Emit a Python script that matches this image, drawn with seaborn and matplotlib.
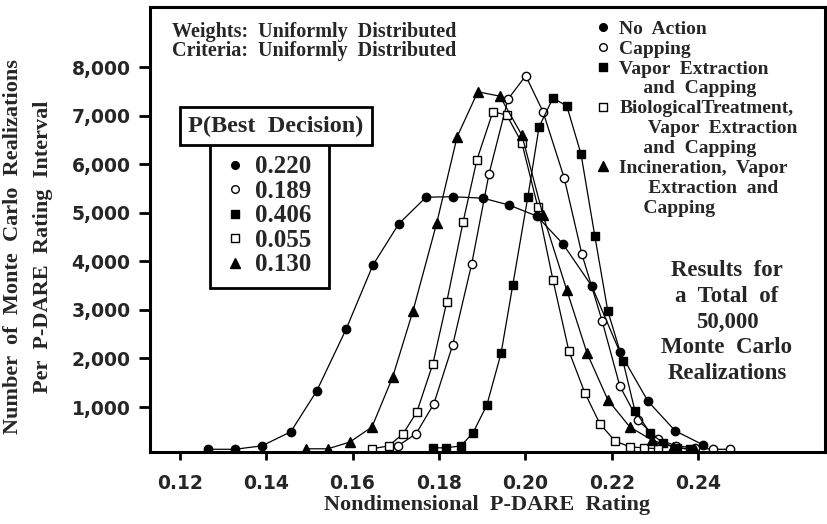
import matplotlib
matplotlib.use("Agg")
import matplotlib.pyplot as plt
from matplotlib.lines import Line2D
import pandas as pd
import seaborn as sns

sns.set_theme(style="white")
plt.rcParams["font.family"] = ["Liberation Serif", "DejaVu Serif"]

# --- data ---------------------------------------------------------------
no_action_rating = [0.1265, 0.1327, 0.1390, 0.1457, 0.1517, 0.1585, 0.1647, 0.1707, 0.1770, 0.1832,
                    0.1902, 0.1962, 0.2027, 0.2087, 0.2154, 0.2219, 0.2284, 0.2347, 0.2412]
no_action_count = [130, 130, 200, 490, 1330, 2600, 3920, 4770, 5320, 5330,
                   5300, 5160, 4930, 4360, 3490, 2130, 1120, 510, 220]

capping_rating = [0.1705, 0.1747, 0.1788, 0.1832, 0.1876, 0.1916, 0.1960, 0.2001, 0.2041, 0.2090,
                  0.2131, 0.2178, 0.2219, 0.2261, 0.2307, 0.2349, 0.2393, 0.2435, 0.2474]
capping_count = [200, 450, 1060, 2280, 3950, 5800, 7340, 7820, 7080, 5720,
                 4150, 2770, 1430, 730, 340, 200, 160, 130, 130]

vapor_rating = [0.1786, 0.1816, 0.1851, 0.1879, 0.1911, 0.1944, 0.1971, 0.2006, 0.2032, 0.2064,
                0.2096, 0.2129, 0.2161, 0.2191, 0.2226, 0.2254, 0.2289, 0.2319, 0.2351, 0.2381]
vapor_count = [160, 160, 200, 470, 1040, 2110, 3510, 5330, 6770, 7360,
               7200, 6210, 4520, 2980, 1950, 920, 470, 260, 160, 140]

bio_rating = [0.1645, 0.1684, 0.1717, 0.1749, 0.1786, 0.1818, 0.1856, 0.1888, 0.1925, 0.1957,
              0.1992, 0.2029, 0.2064, 0.2101, 0.2138, 0.2173, 0.2208, 0.2242, 0.2275, 0.2307]
bio_count = [140, 200, 450, 900, 1890, 3160, 4810, 6090, 7080, 7010,
             6440, 5120, 3620, 2150, 1290, 650, 300, 180, 160, 140]

incin_rating = [0.1492, 0.1543, 0.1594, 0.1645, 0.1693, 0.1740, 0.1795, 0.1842, 0.1890, 0.1941,
                0.1992, 0.2041, 0.2096, 0.2143, 0.2191, 0.2242, 0.2293, 0.2342, 0.2393]
incin_count = [140, 140, 280, 590, 1620, 2980, 4790, 6560, 7490, 7400,
               6600, 4950, 3410, 2110, 1150, 590, 320, 180, 110]

alternatives = ["No Action", "Capping", "Vapor Extraction and Capping",
                "Biological Treatment, Vapor Extraction and Capping",
                "Incineration, Vapor Extraction and Capping"]
p_best = [0.220, 0.189, 0.406, 0.055, 0.130]

x_ticks = [0.12, 0.14, 0.16, 0.18, 0.20, 0.22, 0.24]
y_ticks = [1000, 2000, 3000, 4000, 5000, 6000, 7000, 8000]

# marker styles: (marker, face colour, size)
styles = [("o", "black", 6), ("o", "white", 6), ("s", "black", 6),
          ("s", "white", 6), ("^", "black", 7)]

frames = []
for name, xs, ys in zip(alternatives,
                        [no_action_rating, capping_rating, vapor_rating, bio_rating, incin_rating],
                        [no_action_count, capping_count, vapor_count, bio_count, incin_count]):
    frames.append(pd.DataFrame({"rating": xs, "count": ys, "alternative": name}))
df = pd.concat(frames, ignore_index=True)

# --- figure ---------------------------------------------------------------
fig = plt.figure(figsize=(8.28, 5.24), dpi=100)
ax = fig.add_axes([150 / 828, 1 - 452 / 524, 675 / 828, 445 / 524])

for name, (mk, fc, ms) in zip(alternatives, styles):
    sns.lineplot(data=df[df["alternative"] == name], x="rating", y="count", ax=ax,
                 color="black", lw=0.9, marker=mk, ms=ms, mfc=fc, mec="black", mew=1.0,
                 estimator=None, sort=False, legend=False)

ax.set_xlim(0.1131, 0.2694)
ax.set_ylim(74, 9236)
ax.set_xticks(x_ticks, labels=[f"{v:.2f}" for v in x_ticks],
              fontfamily="DejaVu Sans", fontweight="bold", fontsize=13.5)
ax.set_yticks(y_ticks, labels=[f"{v:,}" for v in y_ticks],
              fontfamily="DejaVu Sans", fontweight="bold", fontsize=13.5)
ax.tick_params(axis="x", bottom=True, direction="out", length=6, width=2, pad=10, color="black")
ax.tick_params(axis="y", left=True, direction="out", length=8, width=2, pad=6, color="black")
for sp in ax.spines.values():
    sp.set_color("black")
    sp.set_linewidth(2.2)

ax.set_xlabel("Nondimensional  P-DARE  Rating", fontsize=16, fontweight="bold", labelpad=1)
ax.set_ylabel("")
fig.text(28 / 828, 1 - 247 / 524,
         "Number  of  Monte  Carlo  Realizations\nPer  P-DARE  Rating  Interval",
         rotation=90, ha="center", va="center", multialignment="center",
         fontsize=16, fontweight="bold", linespacing=1.65)

# header notes
fig.text(172 / 828, 1 - 32 / 524, "Weights:  Uniformly  Distributed",
         va="center", fontsize=14.5, fontweight="bold")
fig.text(172 / 828, 1 - 51 / 524, "Criteria:  Uniformly  Distributed",
         va="center", fontsize=14.5, fontweight="bold")

# right-hand legend (with continuation lines)
def handle(i):
    mk, fc, ms = styles[i]
    return Line2D([], [], ls="none", marker=mk, ms=ms - 0.5, mfc=fc, mec="black", mew=1.0)

blank = Line2D([], [], ls="none")
handles = [handle(0), handle(1), handle(2), blank, handle(3), blank, blank, handle(4), blank, blank]
labels = ["No  Action", "Capping", "Vapor  Extraction", "     and  Capping",
          "BiologicalTreatment,", "      Vapor  Extraction", "     and  Capping",
          "Incineration,  Vapor", "      Extraction  and", "     Capping"]
leg1 = fig.legend(handles, labels, loc="upper left", bbox_to_anchor=(596 / 828, 1 - 20 / 524),
                  frameon=False, prop=dict(family="Liberation Serif", weight="bold", size=14),
                  handlelength=0.7, handletextpad=0.5, labelspacing=0.12,
                  borderpad=0, borderaxespad=0)

# P(Best Decision) box
leg2 = fig.legend([handle(i) for i in range(5)], [f"{p:.3f} " for p in p_best],
                  loc="upper left", bbox_to_anchor=(210 / 828, 1 - 144 / 524),
                  frameon=True, fancybox=False, edgecolor="black", framealpha=1,
                  prop=dict(family="Liberation Serif", weight="bold", size=18),
                  handlelength=1.08, handletextpad=0.28, labelspacing=0.06,
                  borderpad=0.45, borderaxespad=0)
leg2.get_frame().set_linewidth(2)
fig.text(276 / 828, 1 - 126 / 524, "P(Best  Decision)", ha="center", va="center",
         fontsize=17.5, fontweight="bold", zorder=6,
         bbox=dict(boxstyle="square,pad=0.35", fc="white", ec="black", lw=2))

fig.text(727 / 828, 1 - 322 / 524,
         "Results  for\na  Total  of\n50,000\nMonte  Carlo\nRealizations",
         ha="center", va="center", multialignment="center",
         fontsize=16.5, fontweight="bold", linespacing=1.31)

fig.savefig("out.png", dpi=100)
